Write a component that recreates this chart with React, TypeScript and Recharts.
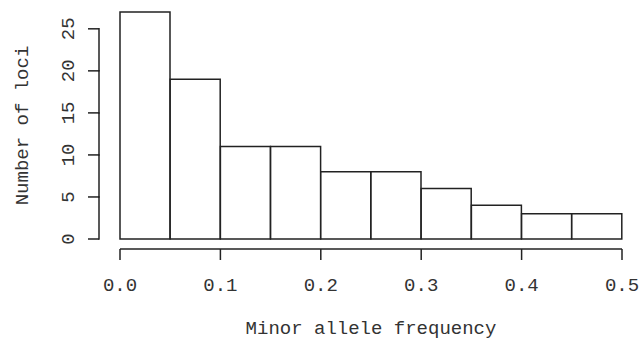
import { Bar, ComposedChart, XAxis, YAxis } from "recharts";

const bins = [
  "0.00-0.05",
  "0.05-0.10",
  "0.10-0.15",
  "0.15-0.20",
  "0.20-0.25",
  "0.25-0.30",
  "0.30-0.35",
  "0.35-0.40",
  "0.40-0.45",
  "0.45-0.50",
];
const binMids = [0.025, 0.075, 0.125, 0.175, 0.225, 0.275, 0.325, 0.375, 0.425, 0.475];
const counts = [27, 19, 11, 11, 8, 8, 6, 4, 3, 3];
const freqTicks = [0, 0.1, 0.2, 0.3, 0.4, 0.5];
const countTicks = [0, 5, 10, 15, 20, 25];

const data = bins.map((bin, i) => ({ bin, mid: binMids[i], count: counts[i] }));
const countDomain = [0, Math.max(...counts)];

const FONT = "'Liberation Mono', 'Courier New', monospace";
const INK = "#222";
const TEXT = "#333";

const CHART_W = 639;
const CHART_H = 339;
const MARGIN = { top: 12, right: 17, bottom: 0, left: 0 };
const GAP_AXIS_H = 10;
const FREQ_AXIS_H = 90;
const COUNT_TICK_SIZE = 11;
const COUNT_TICK_MARGIN = 14;
const PLOT_H = CHART_H - MARGIN.top - MARGIN.bottom - GAP_AXIS_H - FREQ_AXIS_H;

function FreqTick({ x, y, payload }: any) {
  return (
    <text x={x} y={y} textAnchor="middle" fontFamily={FONT} fontSize={19} fill={TEXT}>
      {Number(payload.value).toFixed(1)}
    </text>
  );
}

// label plus the piece of axis line up to the next tick (R's axis stops at 25)
function CountTick({ x, y, payload }: any) {
  const value = Number(payload.value);
  const idx = countTicks.indexOf(value);
  const next = idx >= 0 && idx < countTicks.length - 1 ? countTicks[idx + 1] : null;
  const axisX = x + COUNT_TICK_SIZE + COUNT_TICK_MARGIN;
  const pxPerUnit = PLOT_H / countDomain[1];
  return (
    <g>
      {next !== null && (
        <line
          x1={axisX}
          y1={y + 0.75}
          x2={axisX}
          y2={y - (next - value) * pxPerUnit - 0.75}
          stroke={INK}
          strokeWidth={1.5}
        />
      )}
      <text
        x={x}
        y={y}
        transform={`rotate(-90, ${x}, ${y})`}
        textAnchor="middle"
        fontFamily={FONT}
        fontSize={19}
        fill={TEXT}
      >
        {payload.value}
      </text>
    </g>
  );
}

export default function App() {
  return (
    <div style={{ position: "absolute", left: 0, top: 0, background: "#fff" }}>
      <ComposedChart
        width={CHART_W}
        height={CHART_H}
        data={data}
        margin={MARGIN}
        barCategoryGap={0}
      >
        {/* spacer axes: R draws its axes a little away from the bars */}
        <XAxis
          xAxisId="bins"
          dataKey="bin"
          height={GAP_AXIS_H}
          tick={false}
          tickLine={false}
          axisLine={false}
        />
        <YAxis
          yAxisId="count"
          dataKey="count"
          domain={countDomain}
          width={21}
          tick={false}
          tickLine={false}
          axisLine={false}
        />
        <XAxis
          xAxisId="num"
          dataKey="mid"
          type="number"
          domain={[0, 0.5]}
          ticks={freqTicks}
          interval={0}
          height={FREQ_AXIS_H}
          tickSize={11}
          tickMargin={31}
          axisLine={{ stroke: INK, strokeWidth: 1.5 }}
          tickLine={{ stroke: INK, strokeWidth: 1.5 }}
          tick={<FreqTick />}
          label={{
            content: ({ viewBox }: any) => (
              <text
                x={viewBox.x + viewBox.width / 2}
                y={viewBox.y + 85}
                textAnchor="middle"
                fontFamily={FONT}
                fontSize={19}
                fill={TEXT}
              >
                Minor allele frequency
              </text>
            ),
          }}
        />
        <YAxis
          yAxisId="frame"
          dataKey="count"
          domain={countDomain}
          ticks={countTicks}
          interval={0}
          width={99}
          tickSize={COUNT_TICK_SIZE}
          tickMargin={COUNT_TICK_MARGIN}
          axisLine={false}
          tickLine={{ stroke: INK, strokeWidth: 1.5 }}
          tick={<CountTick />}
          label={{
            content: ({ viewBox }: any) => {
              const cx = (Number(viewBox?.x) || 0) + 28;
              const cy = MARGIN.top + PLOT_H / 2;
              return (
                <text
                  x={cx}
                  y={cy}
                  transform={`rotate(-90, ${cx}, ${cy})`}
                  textAnchor="middle"
                  fontFamily={FONT}
                  fontSize={19}
                  fill={TEXT}
                >
                  Number of loci
                </text>
              );
            },
          }}
        />
        <Bar
          xAxisId="bins"
          yAxisId="count"
          dataKey="count"
          fill="#fff"
          stroke={INK}
          strokeWidth={1.5}
          isAnimationActive={false}
        />
      </ComposedChart>
    </div>
  );
}
